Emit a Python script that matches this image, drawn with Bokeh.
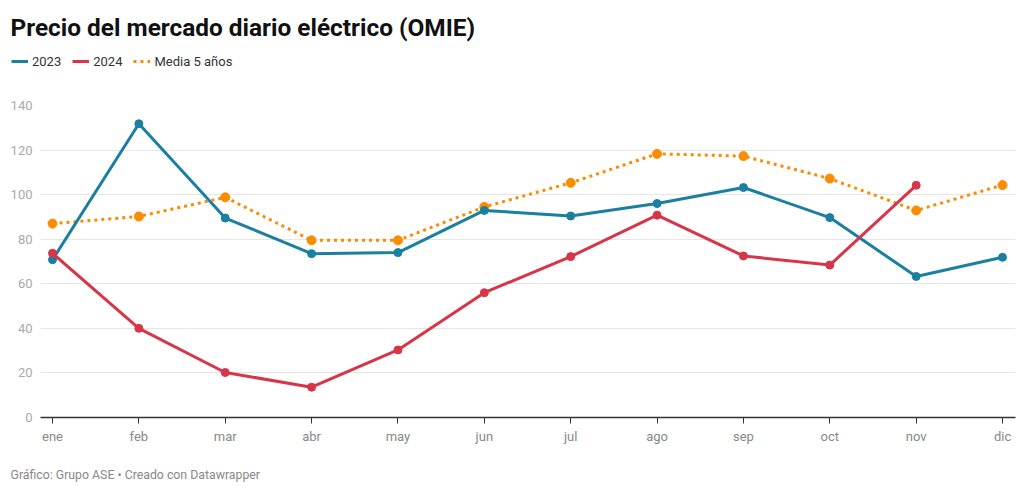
from bokeh.plotting import figure
from bokeh.layouts import column
from bokeh.models import Range1d, FixedTicker, Legend, LegendItem, Label
from bokeh.embed import file_html
from bokeh.resources import INLINE

months = ["ene", "feb", "mar", "abr", "may", "jun", "jul", "ago", "sep", "oct", "nov", "dic"]
precio_2023 = [70.8, 131.8, 89.5, 73.5, 74.0, 92.9, 90.4, 96.0, 103.2, 89.7, 63.3, 71.9]
precio_2024 = [73.7, 40.0, 20.2, 13.6, 30.3, 56.0, 72.2, 90.8, 72.5, 68.4, 104.2]
media_5 = [87.0, 90.2, 98.8, 79.5, 79.5, 94.5, 105.3, 118.3, 117.3, 107.2, 92.9, 104.3]
y_ticks = [0, 20, 40, 60, 80, 100, 120, 140]
series_names = ["2023", "2024", "Media 5 años"]

title_text = "Precio del mercado diario eléctrico (OMIE)"
footer_text = "Gráfico: Grupo ASE • Creado con Datawrapper"

C2023 = "#1b7fa0"
C2024 = "#d73548"
CMED = "#fa8c00"
FONT = "Roboto"
DOT = "3 4"
NAN = float("nan")

W = 1024
HH = 85
HM = 362
HF = 46


def blank(height):
    f = figure(width=W, height=height, output_backend="svg", toolbar_location=None,
               x_range=Range1d(0, W), y_range=Range1d(0, height),
               x_axis_type=None, y_axis_type=None, min_border=0,
               outline_line_color=None, background_fill_color="white",
               border_fill_color="white")
    f.title = None
    f.grid.visible = False
    f.frame_align = False
    return f


# ---------------- header (title + legend) ----------------
header = blank(HH)
header.add_layout(Label(x=10, y=HH - 27, x_units="screen", y_units="screen",
                        text=title_text, text_font=FONT,
                        text_font_size="24.4px", text_font_style="bold",
                        text_color="#111111", text_baseline="alphabetic"))
h23 = header.line([NAN], [NAN], line_color=C2023, line_width=3)
h24 = header.line([NAN], [NAN], line_color=C2024, line_width=3)
hmed = header.line([NAN], [NAN], line_color=CMED, line_width=3, line_dash=DOT)
legend = Legend(items=[LegendItem(label=series_names[0], renderers=[h23]),
                       LegendItem(label=series_names[1], renderers=[h24]),
                       LegendItem(label=series_names[2], renderers=[hmed])],
                orientation="horizontal", location=(11, HH - 71), margin=0,
                padding=0, spacing=11, glyph_width=17, glyph_height=20,
                label_standoff=4, label_text_font=FONT, label_text_font_size="13px",
                label_text_color="#333333", border_line_color=None,
                background_fill_alpha=0)
header.add_layout(legend, "center")

# ---------------- main chart ----------------
idx = list(range(len(months)))

p = figure(width=W, height=HM, output_backend="svg", toolbar_location=None,
           x_range=Range1d(-0.139, 11.15), y_range=Range1d(0, 140),
           min_border_left=40, min_border_right=9, min_border_top=20, min_border_bottom=30,
           outline_line_color=None, background_fill_color="white", border_fill_color="white")
p.title = None
p.frame_align = False

p.xaxis.ticker = FixedTicker(ticks=idx)
p.xaxis.major_label_overrides = {i: m for i, m in enumerate(months)}
p.xaxis.axis_line_color = "#333333"
p.xaxis.axis_line_width = 1.5
p.xaxis.major_tick_line_color = "#333333"
p.xaxis.major_tick_out = 6
p.xaxis.major_tick_in = 0
p.xaxis.minor_tick_line_color = None
p.xaxis.major_label_standoff = 5
p.xaxis.major_label_text_font = FONT
p.xaxis.major_label_text_font_size = "13px"
p.xaxis.major_label_text_color = "#888888"

p.yaxis.ticker = FixedTicker(ticks=y_ticks)
p.yaxis.axis_line_color = None
p.yaxis.major_tick_line_color = None
p.yaxis.minor_tick_line_color = None
p.yaxis.major_label_standoff = 2
p.yaxis.major_label_text_font = FONT
p.yaxis.major_label_text_font_size = "13px"
p.yaxis.major_label_text_color = "#aaaaaa"

p.xgrid.visible = False
p.ygrid.grid_line_color = "#e6e6e6"
p.ygrid.grid_line_width = 1

p.line(idx, media_5, line_color=CMED, line_width=3, line_dash=DOT)
p.scatter(idx, media_5, size=9, fill_color=CMED, line_color=CMED)
p.line(idx, precio_2023, line_color=C2023, line_width=3)
p.scatter(idx, precio_2023, size=8, fill_color=C2023, line_color=C2023)
idx24 = idx[:len(precio_2024)]
p.line(idx24, precio_2024, line_color=C2024, line_width=3)
p.scatter(idx24, precio_2024, size=8, fill_color=C2024, line_color=C2024)

# ---------------- footer ----------------
footer = blank(HF)
footer.add_layout(Label(x=10, y=19, x_units="screen", y_units="screen",
                        text=footer_text, text_font=FONT, text_font_size="12.3px",
                        text_color="#888888", text_baseline="alphabetic"))

layout = column(header, p, footer, spacing=0)
open("out.html", "w").write(file_html(layout, INLINE))
